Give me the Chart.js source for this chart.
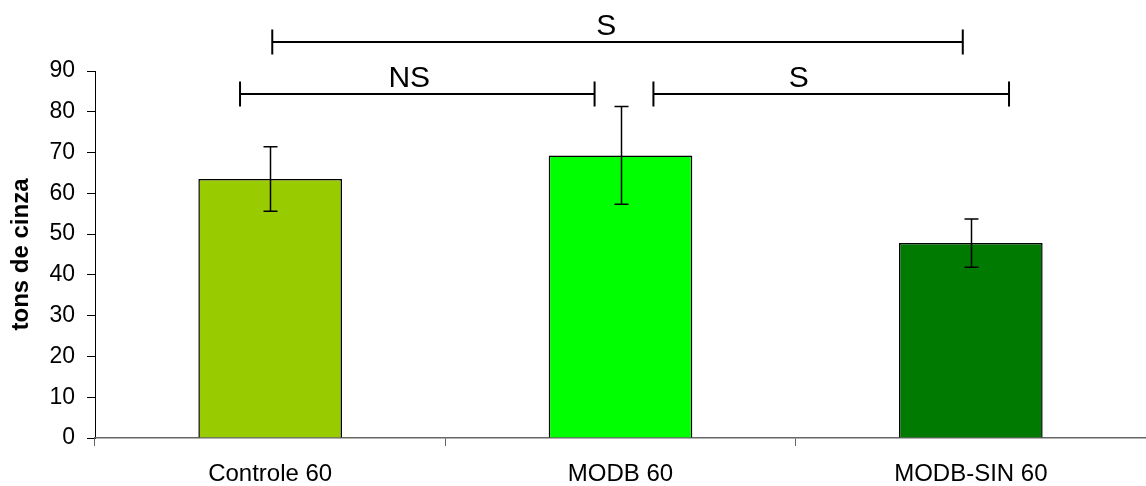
<!DOCTYPE html>
<html>
<head>
<meta charset="utf-8">
<script src="https://cdn.jsdelivr.net/npm/chart.js@4/dist/chart.umd.min.js"></script>
<style>
    html, body { margin: 0; padding: 0; background: #fff; }
    #wrap { width: 1146px; height: 486px; position: relative; }
</style>
</head>
<body>
<div id="wrap"><canvas id="chart"></canvas></div>
<script>
// Chart data
const categories = ['Controle 60', 'MODB 60', 'MODB-SIN 60'];
const means = [63.5, 69.3, 47.8];
const errors = [7.9, 12.0, 5.9];
const barColors = ['#99cc00', '#00ff00', '#007a00'];
const yMax = 90;
const yStep = 10;

// Significance brackets (x in category units, y in data units)
const bracketLabels = ['S', 'NS', 'S'];
const bracketFrom = [0.006, -0.086, 1.094];
const bracketTo = [1.977, 0.926, 2.109];
const bracketLevel = [97.0, 84.4, 84.4];
const bracketTextAt = [0.959, 0.397, 1.509];

const FONT = 'Liberation Sans, Arial, sans-serif';

// Error bars + brackets drawn on top of the bars
const extrasPlugin = {
    id: 'extras',
    afterDatasetsDraw(chart) {
        const ctx = chart.ctx;
        const x = chart.scales.x;
        const y = chart.scales.y;
        ctx.save();
        ctx.strokeStyle = '#000';
        ctx.lineWidth = 1.5;

        // error bars
        means.forEach((m, i) => {
            const cx = Math.round(x.getPixelForValue(i)) + 0.5;
            const top = y.getPixelForValue(m + errors[i]);
            const bot = y.getPixelForValue(m - errors[i]);
            ctx.beginPath();
            ctx.moveTo(cx, top);
            ctx.lineTo(cx, bot);
            ctx.moveTo(cx - 7, top);
            ctx.lineTo(cx + 7, top);
            ctx.moveTo(cx - 7, bot);
            ctx.lineTo(cx + 7, bot);
            ctx.stroke();
        });

        // brackets
        ctx.lineWidth = 2;
        ctx.fillStyle = '#000';
        ctx.font = '30px ' + FONT;
        ctx.textAlign = 'center';
        ctx.textBaseline = 'alphabetic';
        bracketLabels.forEach((lab, i) => {
            const x1 = x.getPixelForValue(bracketFrom[i]);
            const x2 = x.getPixelForValue(bracketTo[i]);
            const by = Math.round(y.getPixelForValue(bracketLevel[i]));
            ctx.beginPath();
            ctx.moveTo(x1, by);
            ctx.lineTo(x2, by);
            ctx.moveTo(x1, by - 12.5);
            ctx.lineTo(x1, by + 12.5);
            ctx.moveTo(x2, by - 12.5);
            ctx.lineTo(x2, by + 12.5);
            ctx.stroke();
            ctx.fillText(lab, x.getPixelForValue(bracketTextAt[i]), by - 7);
        });
        ctx.restore();
    }
};

const ctx = document.getElementById('chart').getContext('2d');
new Chart(ctx, {
    type: 'bar',
    data: {
        labels: categories,
        datasets: [{
            data: means,
            backgroundColor: barColors,
            borderColor: '#000',
            borderWidth: 1.5,
            barPercentage: 0.41,
            categoryPercentage: 1
        }]
    },
    options: {
        responsive: true,
        maintainAspectRatio: false,
        animation: false,
        layout: {
            padding: { top: 71, right: 0, bottom: 0, left: 0 }
        },
        plugins: {
            legend: { display: false },
            tooltip: { enabled: false }
        },
        scales: {
            y: {
                min: 0,
                max: yMax,
                afterFit(scale) { scale.width = 95; },
                ticks: {
                    stepSize: yStep,
                    color: '#000',
                    padding: 12,
                    font: { family: FONT, size: 23 }
                },
                grid: {
                    drawOnChartArea: false,
                    tickLength: 8,
                    color: '#000',
                    lineWidth: 1
                },
                border: { color: '#000', width: 1 },
                title: {
                    display: true,
                    text: 'tons de cinza',
                    color: '#000',
                    padding: { top: 7, bottom: 0 },
                    font: { family: FONT, size: 24, weight: 'bold' }
                }
            },
            x: {
                offset: true,
                afterFit(scale) { scale.height = 48; },
                ticks: {
                    color: '#000',
                    padding: 16,
                    font: { family: FONT, size: 24, lineHeight: 1 }
                },
                grid: {
                    offset: true,
                    drawOnChartArea: false,
                    tickLength: 8,
                    color: '#666',
                    lineWidth: 1
                },
                border: { color: '#666', width: 1.5 }
            }
        }
    },
    plugins: [extrasPlugin]
});
</script>
</body>
</html>
